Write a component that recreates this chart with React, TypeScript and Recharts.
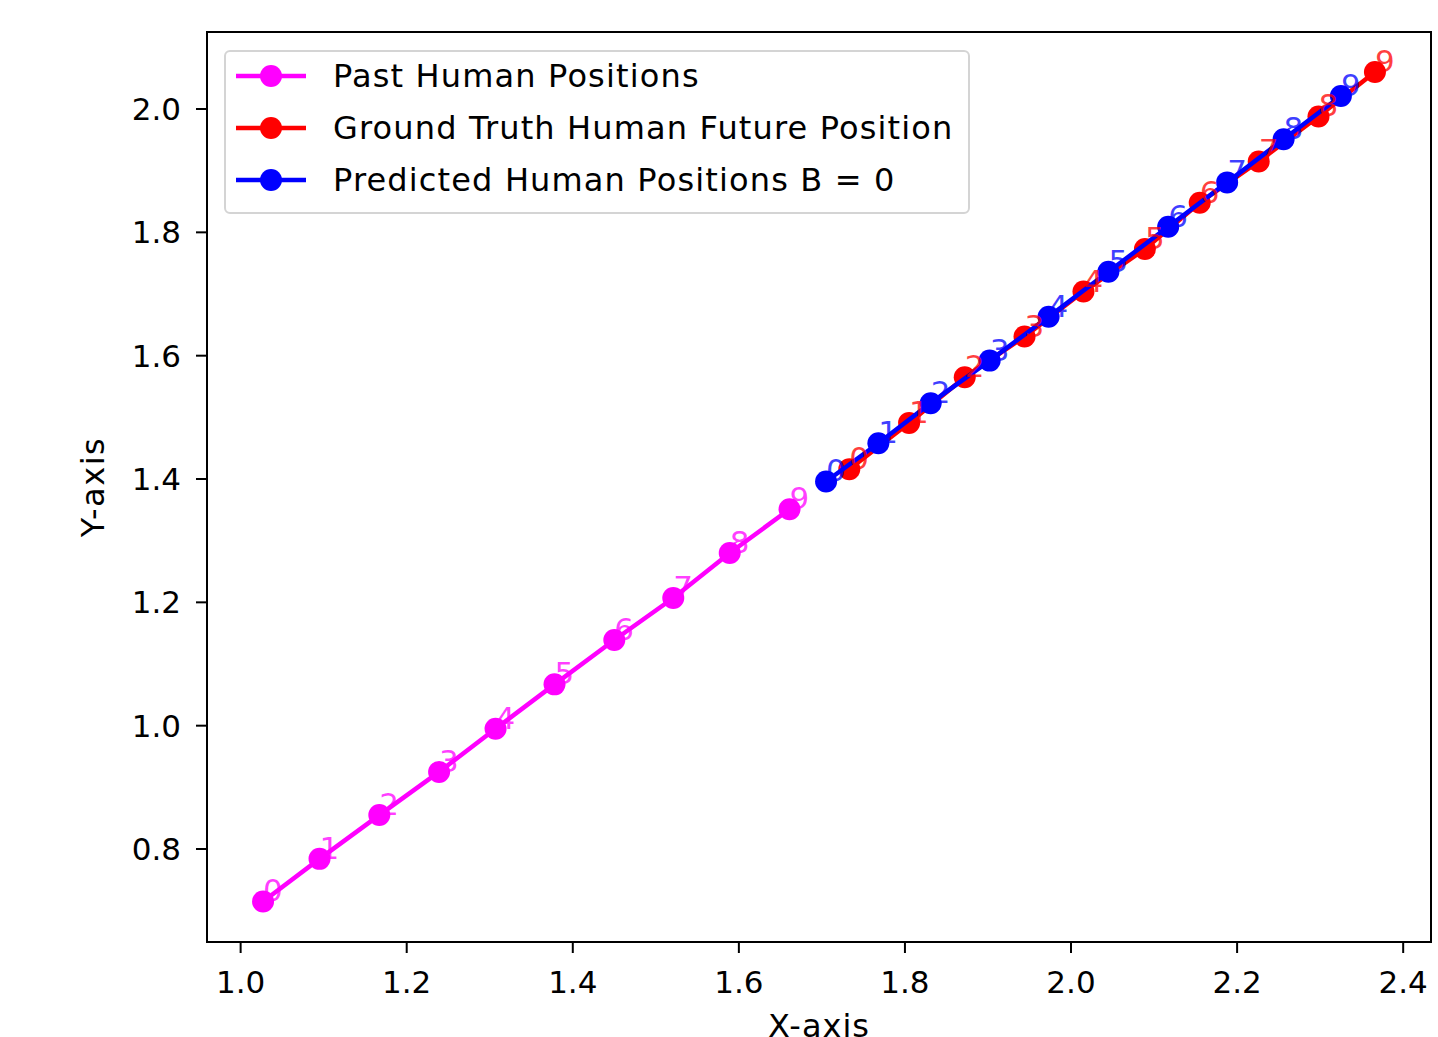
import React from "react";
import {
  ScatterChart,
  Scatter,
  XAxis,
  YAxis,
  ReferenceArea,
  Label,
} from "recharts";

const FONT = "'DejaVu Sans', 'Liberation Sans', sans-serif";

const pastX = [1.027, 1.095, 1.167, 1.239, 1.307, 1.378, 1.45, 1.521, 1.589, 1.661];
const pastY = [0.715, 0.784, 0.855, 0.925, 0.995, 1.067, 1.139, 1.207, 1.28, 1.351];

const truthX = [1.733, 1.805, 1.872, 1.944, 2.015, 2.089, 2.155, 2.226, 2.298, 2.366];
const truthY = [1.416, 1.491, 1.565, 1.631, 1.704, 1.773, 1.848, 1.915, 1.988, 2.06];

const predX = [1.705, 1.768, 1.831, 1.902, 1.973, 2.045, 2.117, 2.188, 2.256, 2.325];
const predY = [1.396, 1.458, 1.523, 1.592, 1.663, 1.736, 1.809, 1.881, 1.951, 2.021];

const xTicks = [1.0, 1.2, 1.4, 1.6, 1.8, 2.0, 2.2, 2.4];
const yTicks = [0.8, 1.0, 1.2, 1.4, 1.6, 1.8, 2.0];

const X_DOMAIN: [number, number] = [0.9595, 2.4335];
const Y_DOMAIN: [number, number] = [0.6492, 2.1249];

const MAGENTA = "#ff00ff";
const RED = "#ff0000";
const BLUE = "#0000ff";

type Pt = { x: number; y: number; label: string };

function toPoints(xs: number[], ys: number[]): Pt[] {
  return xs.map((x, i) => ({ x, y: ys[i], label: String(i) }));
}

const pastData = toPoints(pastX, pastY);
const truthData = toPoints(truthX, truthY);
const predData = toPoints(predX, predY);

const dot = (color: string) => (props: any) => (
  <circle cx={props.cx} cy={props.cy} r={11} fill={color} />
);

const indexText = (color: string) => (props: any) => (
  <text
    x={props.cx}
    y={props.cy}
    fill={color}
    fillOpacity={0.75}
    fontSize={31}
    fontFamily={FONT}
    textAnchor="start"
  >
    {props.payload.label}
  </text>
);

const legendItems = [
  { name: "Past Human Positions", color: MAGENTA },
  { name: "Ground Truth Human Future Position", color: RED },
  { name: "Predicted Human Positions B = 0", color: BLUE },
];

function LegendBox() {
  return (
    <div
      style={{
        position: "absolute",
        left: 224,
        top: 50,
        width: 746,
        height: 164,
        border: "2px solid #d4d4d4",
        borderRadius: 6,
        background: "rgba(255,255,255,0.8)",
        boxSizing: "border-box",
      }}
    >
      {legendItems.map((item, i) => (
        <div
          key={item.name}
          style={{
            position: "absolute",
            left: 0,
            top: 2 + i * 52,
            height: 44,
            display: "flex",
            alignItems: "center",
          }}
        >
          <svg width={100} height={44} style={{ marginLeft: 10 }}>
            <line x1={0} y1={22} x2={70} y2={22} stroke={item.color} strokeWidth={4.5} />
            <circle cx={35} cy={22} r={11} fill={item.color} />
          </svg>
          <span
            style={{
              fontFamily: FONT,
              fontSize: 32,
              letterSpacing: 1.15,
              color: "#000",
              marginLeft: -3,
              whiteSpace: "nowrap",
            }}
          >
            {item.name}
          </span>
        </div>
      ))}
    </div>
  );
}

const tickStyle = { fill: "#000", fontSize: 31, fontFamily: FONT };

export default function App() {
  return (
    <div
      style={{
        position: "absolute",
        left: 0,
        top: 0,
        width: 1438,
        height: 1037,
        background: "#fff",
        overflow: "hidden",
      }}
    >
      <ScatterChart
        width={1438}
        height={1037}
        margin={{ top: 32, right: 7, bottom: 0, left: 0 }}
      >
        <XAxis
          type="number"
          dataKey="x"
          domain={X_DOMAIN}
          ticks={xTicks}
          tickFormatter={(v: number) => v.toFixed(1)}
          allowDataOverflow
          height={95}
          tick={tickStyle}
          tickSize={11}
          tickMargin={18}
          tickLine={{ stroke: "#000", strokeWidth: 2 }}
          axisLine={false}
        >
          <Label
            content={(p: any) => (
              <text
                x={p.viewBox.x + p.viewBox.width / 2}
                y={1037}
                textAnchor="middle"
                fontSize={32}
                letterSpacing={1}
                fontFamily={FONT}
                fill="#000"
              >
                X-axis
              </text>
            )}
          />
        </XAxis>
        <YAxis
          type="number"
          dataKey="y"
          domain={Y_DOMAIN}
          ticks={yTicks}
          tickFormatter={(v: number) => v.toFixed(1)}
          allowDataOverflow
          width={207}
          tick={tickStyle}
          tickSize={11}
          tickMargin={15}
          tickLine={{ stroke: "#000", strokeWidth: 2 }}
          axisLine={false}
        >
          <Label
            content={(p: any) => {
              const cy = p.viewBox.y + p.viewBox.height / 2;
              return (
                <text
                  x={93}
                  y={cy}
                  transform={`rotate(-90, 93, ${cy})`}
                  textAnchor="middle"
                  dominantBaseline="central"
                  fontSize={32}
                  letterSpacing={1.5}
                  fontFamily={FONT}
                  fill="#000"
                >
                  Y-axis
                </text>
              );
            }}
          />
        </YAxis>
        <ReferenceArea
          x1={X_DOMAIN[0]}
          x2={X_DOMAIN[1]}
          y1={Y_DOMAIN[0]}
          y2={Y_DOMAIN[1]}
          fill="none"
          stroke="#000"
          strokeWidth={2}
          fillOpacity={0}
          ifOverflow="visible"
        />
        <Scatter
          data={pastData}
          line={{ stroke: MAGENTA, strokeWidth: 4.5 }}
          lineType="joint"
          shape={dot(MAGENTA)}
          isAnimationActive={false}
        />
        <Scatter
          data={truthData}
          line={{ stroke: RED, strokeWidth: 4.5 }}
          lineType="joint"
          shape={dot(RED)}
          isAnimationActive={false}
        />
        <Scatter
          data={predData}
          line={{ stroke: BLUE, strokeWidth: 4.5 }}
          lineType="joint"
          shape={dot(BLUE)}
          isAnimationActive={false}
        />
        <Scatter data={pastData} shape={indexText(MAGENTA)} legendType="none" isAnimationActive={false} />
        <Scatter data={truthData} shape={indexText(RED)} legendType="none" isAnimationActive={false} />
        <Scatter data={predData} shape={indexText(BLUE)} legendType="none" isAnimationActive={false} />
      </ScatterChart>
      <LegendBox />
    </div>
  );
}
